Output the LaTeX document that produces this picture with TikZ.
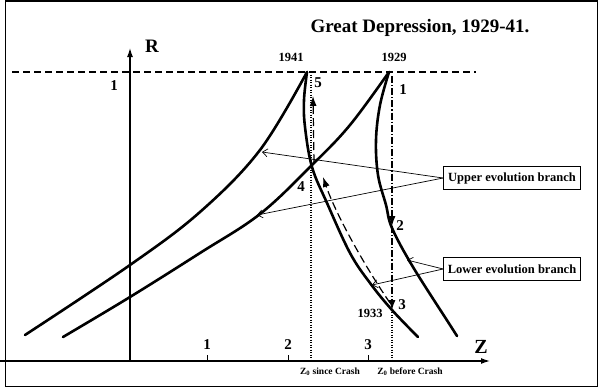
\documentclass[tikz,border=0pt]{standalone}
\usepackage{fontspec}
\setmainfont{Liberation Serif}
\usetikzlibrary{arrows.meta,calc,positioning}

\newcommand{\bfs}[1]{\fontsize{#1}{#1}\selectfont\bfseries}

\begin{document}
\begin{tikzpicture}[x=1pt,y=-1pt,
    branch/.style={line width=2.6pt,line cap=round},
    axis/.style={line width=1.3pt,-{Latex[length=9pt,width=6pt]}},
    pointer/.style={line width=0.7pt,-{Straight Barb[length=5pt,width=8pt]}},
    labelbox/.style={draw,line width=0.8pt,fill=white,minimum width=137pt,minimum height=23pt,inner sep=2pt,font=\bfs{12.5}},
    num/.style={font=\bfs{15}},
    year/.style={font=\bfs{12.5}},
    zline/.style={line width=1.3pt,dash pattern=on 1pt off 1.5pt},
    tip/.style={-{Latex[length=10pt,width=7pt]}}]
    \useasboundingbox (0,0) rectangle (600,388);
    % frame
    \draw[line width=1.5pt] (5.5,1) rectangle (597.5,386.5);
    \node[font=\bfs{19}] (title) at (420,28) {Great Depression, 1929-41.};

    % axes
    \coordinate (O) at (130,361);
    \coordinate (zend) at (490,361);
    \coordinate (rend) at (130,48);
    \draw[axis] (0,361) -- (zend);
    \draw[axis] (O) -- (rend);
    \node[font=\bfs{20}] (Zlab) at (481,347) {Z};
    \node[font=\bfs{19}] (Rlab) at (152,46) {R};
    \foreach \x/\t in {207/1,288/2,368/3} {
        \draw[line width=1pt] (\x,361) -- (\x,355);
        \node[num] at (\x,345) {\t};
    }
    \draw[line width=1.6pt,dash pattern=on 7pt off 4pt] (12,72) -- (476,72);
    \node[num] (one) at (114,86) {1};

    % Z_0 lines
    \coordinate (t41) at (311,72);
    \coordinate (t29) at (392,72);
    \draw[zline] (t41) -- (311,361);
    \draw[zline] (392,312) -- (392,361);
    \node[font=\bfs{9.5}] (zs) at (330,372) {Z\textsubscript{0} since Crash};
    \node[font=\bfs{9.5}] (zb) at (410,372) {Z\textsubscript{0} before Crash};
    \node[year] (y41) at (291,57) {1941};
    \node[year] (y29) at (394,57) {1929};

    % upper evolution branches
    \draw[branch] plot[smooth,tension=0.6] coordinates {(307,72) (260,150) (200,212) (130,265) (25,335)};
    \draw[branch] plot[smooth,tension=0.6] coordinates {(389,72) (350,125) (312,165) (260,214) (200,253) (130,297) (63,337)};
    % lower evolution branches
    \draw[branch] plot[smooth,tension=0.6] coordinates {(307,72) (304,100) (305,127) (312,167) (327,203) (350,253) (370,283) (392,310) (418,337)};
    \draw[branch] plot[smooth,tension=0.6] coordinates {(389,72) (380,105) (376,140) (378,175) (386,205) (392,228) (413,267) (450,325) (457,336)};

    % path of the crash
    \coordinate (p1) at (392,76);
    \coordinate (p2) at (392,226);
    \coordinate (p3) at (392,310);
    \coordinate (q3) at (390,303);
    \coordinate (q4) at (323,177);
    \coordinate (q4b) at (314,162);
    \coordinate (q5) at (313,96);
    \draw[line width=1.2pt,dash pattern=on 7pt off 2pt on 1.2pt off 2pt,tip] (p1) -- (p2);
    \draw[line width=1.2pt,dash pattern=on 7pt off 2pt on 1.2pt off 2pt,tip] (p2) -- (p3);
    \draw[line width=1.2pt,dash pattern=on 8pt off 4pt,tip] (q3) .. controls (362,262) and (335,212) .. (q4);
    \draw[line width=1.2pt,dash pattern=on 8pt off 4pt,tip] (q4b) -- (q5);
    \node[num] (n1) at (403,90) {1};
    \node[num] (n2) at (400,226) {2};
    \node[num] (n3) at (402,305) {3};
    \node[num] (n4) at (301,187) {4};
    \node[num] (n5) at (318,83) {5};
    \node[year] (y33) at (370,313) {1933};

    % labels
    \node[labelbox] (upper) at (512,178) {Upper evolution branch};
    \node[labelbox] (lower) at (512,269) {Lower evolution branch};
    \coordinate (ua) at (262,152);
    \coordinate (ub) at (257,215);
    \coordinate (la) at (407,260);
    \coordinate (lb) at (372,285);
    \draw[pointer] (upper.west) -- (ua);
    \draw[pointer] (upper.west) -- (ub);
    \draw[pointer] (lower.west) -- (la);
    \draw[pointer] (lower.west) -- (lb);
\end{tikzpicture}
\end{document}
